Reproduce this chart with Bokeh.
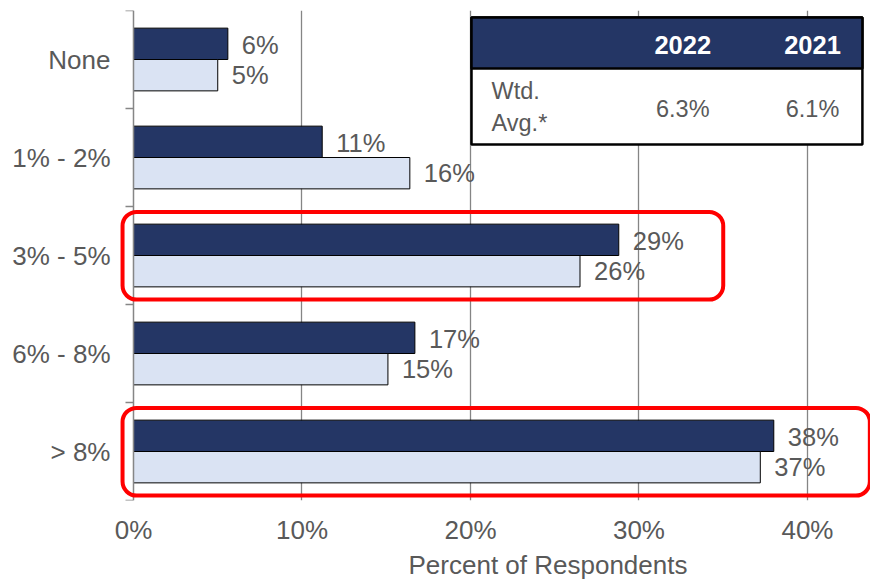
from bokeh.plotting import figure
from bokeh.models import Range1d, FixedTicker, BoxAnnotation, Title, Span, ColumnDataSource
from bokeh.embed import file_html
from bokeh.resources import INLINE
from bokeh.core.properties import value

# ---------------- data ----------------
categories = ["None", "1% - 2%", "3% - 5%", "6% - 8%", "> 8%"]
pct_2022 = [5.6, 11.2, 28.8, 16.7, 38.0]
pct_2021 = [5.0, 16.4, 26.5, 15.1, 37.2]
labels_2022 = ["6%", "11%", "29%", "17%", "38%"]
labels_2021 = ["5%", "16%", "26%", "15%", "37%"]
x_ticks = [0, 10, 20, 30, 40]
x_tick_labels = ["0%", "10%", "20%", "30%", "40%"]
table_years = ["2022", "2021"]
table_row_label = "Wtd.\nAvg.*"
table_values = ["6.3%", "6.1%"]
highlight_cats = ["3% - 5%", "> 8%"]
highlight_right = [35.0, 43.7]
x_label = "Percent of Respondents"

# ---------------- style ----------------
FONT = "Liberation Sans"
TXT = "#595959"
NAVY = "#243665"
LIGHT = "#DAE3F3"
GRID = "#858585"
AXIS = "#868686"
BAR_H = 0.32
TICK_LEN = 0.475  # in % units (~8px)

pos = [i + 1 for i in range(len(categories))]
bounds = [c - 0.5 for c in pos] + [pos[-1] + 0.5]

p = figure(width=870, height=580, x_range=Range1d(-0.89, 43.74), y_range=Range1d(5.5, 0.5),
           output_backend="svg", toolbar_location=None,
           min_border_left=118, min_border_right=0, min_border_top=10, min_border_bottom=80)
p.outline_line_color = None
p.background_fill_color = "white"
p.border_fill_color = "white"

# gridlines
p.xgrid.ticker = FixedTicker(ticks=x_ticks[1:])
p.xgrid.grid_line_color = GRID
p.xgrid.grid_line_width = 1.3
p.ygrid.grid_line_color = None

# value axis line at 0 and category boundary ticks
p.add_layout(Span(location=0, dimension="height", line_color=AXIS, line_width=1.5))
p.segment(x0=[-TICK_LEN] * len(bounds), x1=[0] * len(bounds), y0=bounds, y1=bounds,
          line_color=AXIS, line_width=1.5)

# bars
src = ColumnDataSource(dict(
    y22=[c - BAR_H / 2 for c in pos], y21=[c + BAR_H / 2 for c in pos],
    v22=pct_2022, v21=pct_2021, l22=labels_2022, l21=labels_2021))
p.hbar(y="y22", right="v22", left=0, height=BAR_H, source=src,
       fill_color=NAVY, line_color="black", line_width=1)
p.hbar(y="y21", right="v21", left=0, height=BAR_H, source=src,
       fill_color=LIGHT, line_color="black", line_width=1)

p.text(x="v22", y="y22", text="l22", source=src, x_offset=14, y_offset=1,
       text_font=value(FONT), text_font_size="25.5px", text_color=TXT,
       text_align="left", text_baseline="middle")
p.text(x="v21", y="y21", text="l21", source=src, x_offset=14,
       text_font=value(FONT), text_font_size="25.5px", text_color=TXT,
       text_align="left", text_baseline="middle")

# axes
p.yaxis.ticker = FixedTicker(ticks=pos)
p.yaxis.major_label_overrides = {c: lab for c, lab in zip(pos, categories)}
p.yaxis.major_tick_line_color = None
p.yaxis.major_tick_out = 0
p.yaxis.major_tick_in = 0
p.yaxis.minor_tick_line_color = None
p.yaxis.minor_tick_out = 0
p.yaxis.minor_tick_in = 0
p.yaxis.axis_line_color = None
p.yaxis.major_label_standoff = 8
p.yaxis.major_label_text_font = FONT
p.yaxis.major_label_text_font_size = "26px"
p.yaxis.major_label_text_color = TXT

p.xaxis.ticker = FixedTicker(ticks=x_ticks)
p.xaxis.major_label_overrides = {t: lab for t, lab in zip(x_ticks, x_tick_labels)}
p.xaxis.axis_line_color = None
p.xaxis.major_tick_line_color = None
p.xaxis.major_tick_out = 0
p.xaxis.major_tick_in = 0
p.xaxis.minor_tick_line_color = None
p.xaxis.minor_tick_out = 0
p.xaxis.minor_tick_in = 0
p.xaxis.major_label_standoff = 14
p.xaxis.major_label_text_font = FONT
p.xaxis.major_label_text_font_size = "26px"
p.xaxis.major_label_text_color = TXT

p.add_layout(Title(text=x_label, align="left", offset=290, standoff=0,
                   text_font=FONT, text_font_size="26px", text_font_style="normal",
                   text_color=TXT), "below")

# highlight boxes
for cat, right in zip(highlight_cats, highlight_right):
    c = pos[categories.index(cat)]
    p.add_layout(BoxAnnotation(left=-0.65, right=right, top=c - 0.445, bottom=c + 0.45,
                               fill_color=None, fill_alpha=0, line_color="#FF0000",
                               line_alpha=1.0, line_width=4, border_radius=14, level="overlay"))

# summary table
T_L, T_R, T_TOP, T_MID, T_BOT = 20.06, 43.26, 0.571, 1.092, 1.867
col_x = [32.6, 40.3]
p.quad(left=T_L, right=T_R, top=T_TOP, bottom=T_BOT, fill_color="white",
       line_color="black", line_width=2.5)
p.quad(left=T_L, right=T_R, top=T_TOP, bottom=T_MID, fill_color=NAVY,
       line_color="black", line_width=2.5)
tsrc = ColumnDataSource(dict(x=col_x, yr=table_years, v=table_values))
p.text(x="x", y=0.847, text="yr", source=tsrc, text_font=value(FONT), text_font_size="25.5px",
       text_font_style="bold", text_color="white", text_align="center", text_baseline="middle")
p.text(x="x", y=1.5, text="v", source=tsrc, text_font=value(FONT), text_font_size="23.5px",
       text_color=TXT, text_align="center", text_baseline="middle")
p.text(x=[21.25], y=[1.485], text=[table_row_label], text_font=value(FONT), text_font_size="23.5px",
       text_color=TXT, text_align="left", text_baseline="middle", text_line_height=1.2)

open("out.html", "w").write(file_html(p, INLINE))
